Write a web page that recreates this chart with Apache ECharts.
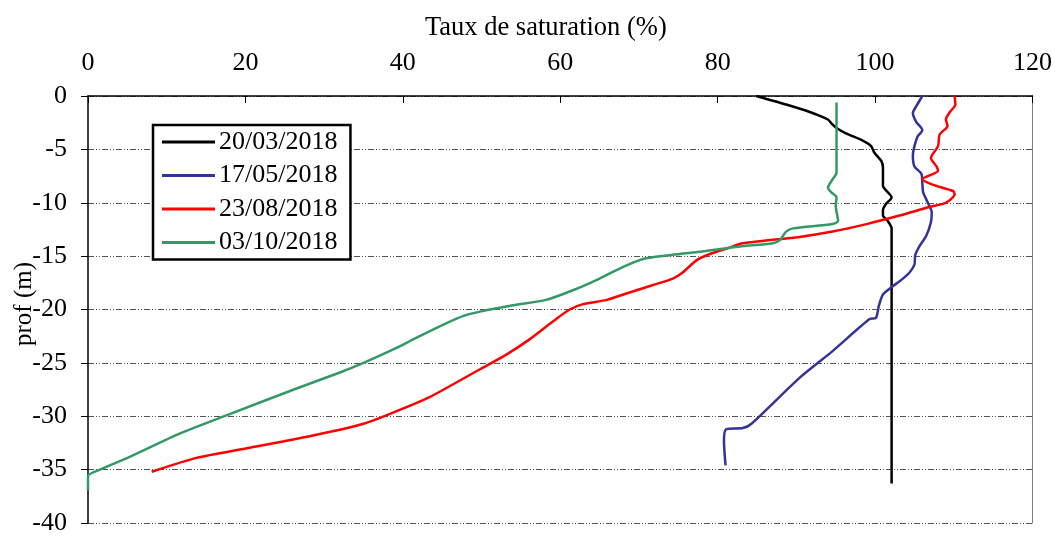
<!DOCTYPE html>
<html>
<head>
<meta charset="utf-8">
<script src="https://cdn.jsdelivr.net/npm/echarts@6/dist/echarts.min.js"></script>
<style>
  html, body { margin: 0; padding: 0; background: #fff; }
  #chart { width: 1055px; height: 536px; }
</style>
</head>
<body>
<div id="chart"></div>
<script>
  // valeurs : taux de saturation (%) et profondeur (m)
  const seriesNames = ['20/03/2018', '17/05/2018', '23/08/2018', '03/10/2018']
  const xTicks = [0, 20, 40, 60, 80, 100, 120]
  const yTicks = [0, -5, -10, -15, -20, -25, -30, -35, -40]

  const sat20Mar = [84.9, 88.7, 91.7, 94, 94.5, 95.1, 96.3, 98.5, 99.5, 99.9, 100.8, 101, 101, 101, 102.1, 101.4, 101, 101, 101.6, 102.1, 102.1]
  const prof20Mar = [0, -0.8, -1.5, -2.2, -2.6, -3.0, -3.5, -4.2, -4.7, -5.3, -6.1, -6.7, -7.8, -8.4, -9.5, -10.1, -10.7, -11.2, -11.7, -12.4, -36.3]

  const sat17May = [106, 105.2, 104.8, 105.2, 106, 105.4, 105, 104.8, 105, 105.9, 106, 106.1, 106.7, 107.2, 107.1, 106.5, 105.7, 105.1, 105, 104.3, 103.2, 102.1, 101, 100.5, 100.1, 99.3, 94.6, 90.4, 84.3, 83.2, 81.1, 80.8, 81]
  const prof17May = [0, -1, -1.6, -2.4, -3.2, -3.8, -4.7, -5.6, -6.6, -7.3, -8.1, -9.0, -10, -10.9, -11.8, -13.1, -14, -14.9, -15.8, -16.6, -17.3, -17.9, -18.6, -19.6, -20.8, -20.9, -23.9, -26.4, -30.7, -31.1, -31.2, -32.3, -34.6]

  const sat23Aug = [110.1, 110.2, 109.5, 109, 109.2, 108.2, 108, 107.1, 107.8, 108, 106, 107.3, 109.9, 110.1, 109, 106.9, 103.1, 98.9, 94.6, 90.4, 83.2, 81.5, 79, 77.3, 75.6, 74.3, 71.8, 68.4, 65.9, 62.9, 61.2, 59.1, 56.1, 53.2, 49.8, 46.4, 43.4, 39.6, 35, 28.6, 20.2, 13.8, 8.1]
  const prof23Aug = [0, -0.8, -1.5, -2.2, -2.8, -3.6, -4.7, -5.8, -6.6, -7.0, -7.8, -8.3, -8.9, -9.2, -10, -10.4, -11.2, -12, -12.7, -13.2, -13.8, -14.2, -14.8, -15.4, -16.5, -17.1, -17.7, -18.5, -19.1, -19.5, -20, -21.1, -22.8, -24.2, -25.6, -27, -28.2, -29.4, -30.7, -31.8, -33, -33.9, -35.2]

  const sat03Oct = [95.1, 95.1, 94.6, 94, 94.4, 95.1, 95, 95.3, 94.6, 89.6, 88.7, 87.9, 87, 82.8, 77.7, 75.2, 70.9, 68, 65, 61.6, 58.2, 54, 49.8, 47.7, 45.5, 41.3, 39.2, 35, 32, 26.5, 18, 11.7, 5.3, 1.5, 0, 0]
  const prof03Oct = [-0.6, -7.2, -7.8, -8.6, -9.0, -9.5, -10.3, -11.7, -12, -12.4, -12.7, -13.5, -13.8, -14.1, -14.6, -14.8, -15.2, -16, -17.1, -18.2, -19.1, -19.6, -20.2, -20.6, -21.3, -22.8, -23.6, -25, -25.9, -27.4, -29.8, -31.6, -33.8, -35, -35.6, -36.9]

  const colors = ['#000000', '#333399', '#ff0000', '#339966']
  const font = '"Liberation Serif", "Times New Roman", serif'

  function pairs(xs, ys) {
    return xs.map((x, i) => [x, ys[i]])
  }

  const allData = [
    pairs(sat20Mar, prof20Mar),
    pairs(sat17May, prof17May),
    pairs(sat23Aug, prof23Aug),
    pairs(sat03Oct, prof03Oct)
  ]

  const myChart = echarts.init(document.getElementById('chart'))

  let option = {
    animation: false,
    color: colors,
    textStyle: { fontFamily: font },
    title: {
      text: 'Taux de saturation (%)',
      left: 425,
      top: 15,
      padding: 0,
      textStyle: { fontFamily: font, fontWeight: 'normal', fontSize: 26.5, color: '#000' }
    },
    graphic: [{
      type: 'text',
      x: 24,
      y: 304,
      rotation: Math.PI / 2,
      style: {
        text: 'prof (m)',
        font: '25px ' + font,
        fill: '#000',
        align: 'center',
        verticalAlign: 'middle'
      }
    }],
    grid: {
      left: 88,
      right: 22,
      top: 96,
      bottom: 9
    },
    legend: {
      orient: 'vertical',
      left: 153,
      top: 125,
      padding: [4, 13, 4, 9],
      icon: 'rect',
      itemWidth: 53,
      itemHeight: 3,
      itemGap: 7.5,
      backgroundColor: '#fff',
      borderColor: '#000',
      borderWidth: 2.5,
      textStyle: { fontFamily: font, fontSize: 26, color: '#000', padding: [0, 0, 0, -1] },
      data: seriesNames
    },
    xAxis: {
      type: 'value',
      position: 'top',
      min: xTicks[0],
      max: xTicks[xTicks.length - 1],
      interval: 20,
      splitLine: { show: false },
      axisTick: { show: true, inside: true, length: 7, lineStyle: { color: '#000' } },
      axisLine: { show: true, lineStyle: { color: '#000', width: 1.5 } },
      axisLabel: { margin: 20, color: '#000', fontSize: 26, fontFamily: font }
    },
    yAxis: [{
      type: 'value',
      min: yTicks[yTicks.length - 1],
      max: yTicks[0],
      interval: 5,
      axisTick: { show: true, inside: false, length: 7, lineStyle: { color: '#000' } },
      axisLine: { show: true, lineStyle: { color: '#000', width: 1.5 } },
      axisLabel: { margin: 21, color: '#000', fontSize: 26, fontFamily: font },
      splitLine: {
        show: true,
        lineStyle: { color: '#555', width: 1, type: [6, 2, 1, 2, 1, 2] }
      }
    }, {
      type: 'value',
      position: 'right',
      min: yTicks[yTicks.length - 1],
      max: yTicks[0],
      interval: 5,
      axisTick: { show: false },
      axisLabel: { show: false },
      splitLine: { show: false },
      axisLine: { show: true, lineStyle: { color: '#808080', width: 1 } }
    }],
    series: []
  }

  option.series = allData.map((d, i) => ({
    name: seriesNames[i],
    type: 'line',
    data: d,
    symbol: 'none',
    smooth: 0.25,
    lineStyle: { width: 2.5, color: colors[i] },
    itemStyle: { color: colors[i] }
  }))

  myChart.setOption(option)
</script>
</body>
</html>
